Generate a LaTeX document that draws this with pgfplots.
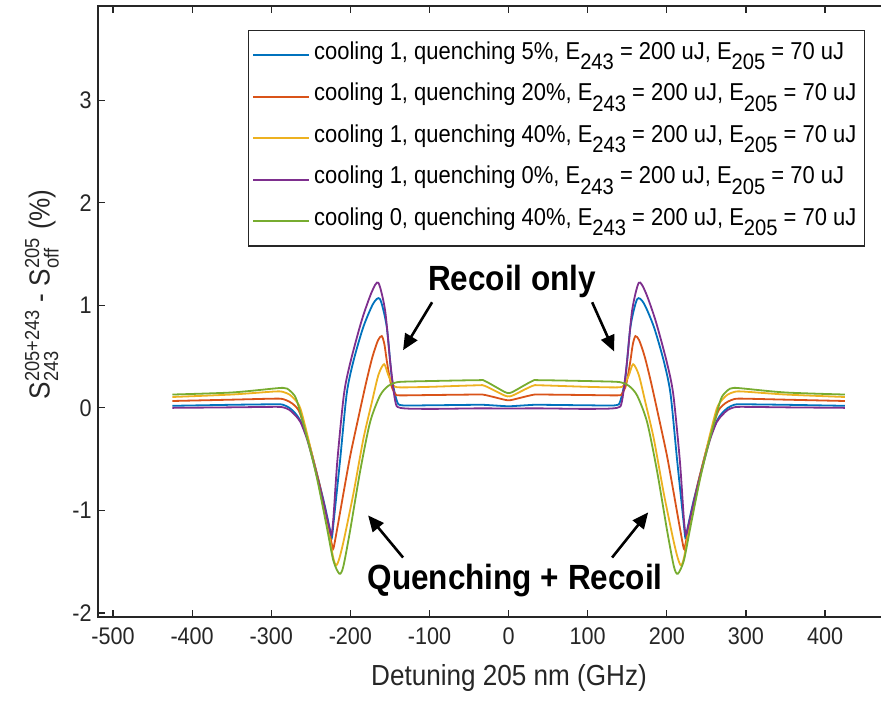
\documentclass[border=0pt]{standalone}
\usepackage{fontspec}
\setmainfont{Liberation Sans}[FakeStretch=0.9]
\usepackage{amsmath}
\usepackage{pgfplots}
\usepackage{pgfplotstable}
\pgfplotsset{compat=1.18}
\usetikzlibrary{arrows.meta}

\definecolor{c1}{rgb}{0,0.447,0.741}
\definecolor{c2}{rgb}{0.850,0.325,0.098}
\definecolor{c3}{rgb}{0.929,0.694,0.125}
\definecolor{c4}{rgb}{0.494,0.184,0.556}
\definecolor{c5}{rgb}{0.466,0.674,0.188}
\definecolor{axgray}{rgb}{0.15,0.15,0.15}

\newcommand\lsub[1]{\raisebox{-0.42em}{\fontsize{11.2}{12}\selectfont #1}}
\newcommand\leg[2]{cooling #1, quenching #2\%, E\lsub{243} = 200 uJ, E\lsub{205} = 70 uJ}

\pgfplotstableread{
x y
-425 0.02
-350 0.03
-295 0.035
-285 0.03
-277 0.0
-270 -0.05
-263.6 -0.12
-255 -0.28
-246.8 -0.51
-234 -0.9
-226 -1.18
-223.5 -1.27
-221 -1.1
-213 -0.51
-204.6 0.14
-196 0.46
-183.6 0.79
-170.9 1.02
-162.5 1.06
-154 0.79
-147.7 0.30
-141.3 0.07
-135 0.025
-100 0.025
-40 0.03
-30 0.029
-5 0.017
0 0.015
5 0.017
30 0.029
40 0.03
100 0.025
135 0.025
141.3 0.07
147.7 0.30
154 0.79
162.5 1.06
170.9 1.02
183.6 0.79
196 0.46
204.6 0.14
213 -0.51
221 -1.1
223.5 -1.27
226 -1.18
234 -0.9
246.8 -0.51
255 -0.28
263.6 -0.12
270 -0.05
277 0.0
285 0.03
295 0.035
350 0.03
425 0.02
}\blue

\pgfplotstableread{
x y
-425 0.067
-350 0.08
-295 0.09
-285 0.085
-277 0.06
-270 0.02
-263.6 -0.056
-251 -0.38
-238.3 -0.77
-227.8 -1.16
-223.5 -1.33
-221.5 -1.374
-216 -1.15
-208 -0.80
-200 -0.46
-190 -0.1
-180 0.25
-172 0.5
-165 0.66
-160.3 0.70
-157 0.62
-154 0.46
-150.5 0.30
-147.7 0.204
-143 0.135
-138 0.122
-100 0.125
-40 0.13
-30 0.126
-5 0.079
0 0.074
5 0.079
30 0.126
40 0.13
100 0.125
138 0.122
143 0.135
147.7 0.204
150.5 0.30
154 0.46
157 0.62
160.3 0.70
165 0.66
172 0.5
180 0.25
190 -0.1
200 -0.46
208 -0.80
216 -1.15
221.5 -1.374
223.5 -1.33
227.8 -1.16
238.3 -0.77
251 -0.38
263.6 -0.056
270 0.02
277 0.06
285 0.085
295 0.09
350 0.08
425 0.067
}\orange

\pgfplotstableread{
x y
-425 0.106
-350 0.13
-295 0.16
-285 0.155
-277 0.13
-270 0.08
-263 -0.01
-252 -0.34
-240 -0.75
-229 -1.15
-222 -1.45
-218.1 -1.537
-214 -1.47
-208 -1.28
-196.2 -0.837
-183.5 -0.3
-173 0.05
-164.6 0.32
-157.4 0.426
-152 0.318
-145.6 0.22
-138 0.20
-100 0.205
-40 0.22
-30 0.214
-5 0.12
0 0.113
5 0.12
30 0.214
40 0.22
100 0.205
138 0.20
145.6 0.22
152 0.318
157.4 0.426
164.6 0.32
173 0.05
183.5 -0.3
196.2 -0.837
208 -1.28
214 -1.47
218.1 -1.537
222 -1.45
229 -1.15
240 -0.75
252 -0.34
263 -0.01
270 0.08
277 0.13
285 0.155
295 0.16
350 0.13
425 0.106
}\yellow

\pgfplotstableread{
x y
-425 0.0
-350 0.005
-295 0.01
-285 0.005
-277 -0.02
-270 -0.07
-263 -0.14
-255 -0.30
-247 -0.52
-234 -0.92
-227 -1.16
-224 -1.24
-221.5 -1.08
-216.4 -0.51
-208 0.14
-199.5 0.46
-185.6 0.855
-173 1.13
-164.6 1.22
-156.1 0.95
-149.8 0.46
-143.5 0.074
-137 0.0
-100 -0.01
-40 -0.005
0 -0.006
40 -0.005
100 -0.01
137 0.0
143.5 0.074
149.8 0.46
156.1 0.95
164.6 1.22
173 1.13
185.6 0.855
199.5 0.46
208 0.14
216.4 -0.51
221.5 -1.08
224 -1.24
227 -1.16
234 -0.92
247 -0.52
255 -0.30
263 -0.14
270 -0.07
277 -0.02
285 0.005
295 0.01
350 0.005
425 0.0
}\purple

\pgfplotstableread{
x y
-425 0.13
-350 0.15
-295 0.19
-285 0.195
-280 0.188
-274 0.15
-267.8 0.074
-255.1 -0.28
-242.5 -0.675
-229.8 -1.163
-221.5 -1.49
-213.9 -1.618
-209 -1.55
-200.4 -1.2
-187.7 -0.62
-175.1 -0.14
-162.5 0.12
-152 0.215
-141.3 0.25
-120 0.258
-40 0.27
-30 0.262
-5 0.155
0 0.146
5 0.155
30 0.262
40 0.27
120 0.258
141.3 0.25
152 0.215
162.5 0.12
175.1 -0.14
187.7 -0.62
200.4 -1.2
209 -1.55
213.9 -1.618
221.5 -1.49
229.8 -1.163
242.5 -0.675
255.1 -0.28
267.8 0.074
274 0.15
280 0.188
285 0.195
295 0.19
350 0.15
425 0.13
}\green

\begin{document}
\begin{tikzpicture}
\begin{axis}[
  name=ax,
  scale only axis,
  width=411pt, height=305.5pt,
  xmin=-519, xmax=520,
  ymin=-2.04, ymax=3.92,
  axis line style={axgray, line width=0.6pt},
  tick style={axgray, line width=0.6pt},
  major tick length=3.5pt,
  tick align=inside,
  xtick={-500,-400,-300,-200,-100,0,100,200,300,400},
  xticklabels={-500,-400,-300,-200,-100,0,100,200,300,400},
  ytick={-2,-1,0,1,2,3},
  yticklabels={-2,-1,0,1,2,3},
  ticklabel style={font=\fontsize{12}{14}\selectfont, text=axgray},
  xticklabel style={anchor=north, inner sep=0pt, yshift=-5pt},
  yticklabel style={anchor=east, inner sep=0pt, xshift=-3pt},
  xlabel={Detuning 205 nm (GHz)},
  ylabel={S$^{\text{205+243}}_{\text{243}}$ - S$^{\text{205}}_{\text{off}}$ (\%)},
  label style={font=\fontsize{14.5}{16}\selectfont, text=axgray},
  xlabel style={at={(rel axis cs:0.5,0)}, anchor=center, yshift=-30.5pt},
  ylabel style={at={(rel axis cs:0,0.528)}, anchor=center, yshift=28pt, xshift=0pt},
  every axis plot/.append style={line width=0.9pt, smooth, tension=0.45},
  legend style={at={(0.933,0.961)}, anchor=north east, draw=axgray, line width=0.6pt,
    font=\fontsize{12.2}{14}\selectfont, cells={anchor=west}, row sep=0pt,
    inner xsep=2pt, inner ysep=2pt,
    nodes={inner sep=2pt, text height=10.5pt, text depth=6.25pt}},
  legend image code/.code={\draw[#1] (0pt,0pt) -- (28pt,0pt);},
  clip=false,
]
\addplot[c1] table {\blue};
\addlegendentry{\leg{1}{5}}
\addplot[c2] table {\orange};
\addlegendentry{\leg{1}{20}}
\addplot[c3] table {\yellow};
\addlegendentry{\leg{1}{40}}
\addplot[c4] table {\purple};
\addlegendentry{\leg{1}{0}}
\addplot[c5] table {\green};
\addlegendentry{\leg{0}{40}}

\node[font=\fontsize{17.5}{20}\selectfont\bfseries] at (axis cs:4.4,1.236) {Recoil only};
\node[font=\fontsize{17.5}{20}\selectfont\bfseries] at (axis cs:8.2,-1.684) {Quenching + Recoil};
\draw[-{Triangle[length=8pt,width=7pt]}, line width=1.3pt] (axis cs:-96.7,1.03) -- (axis cs:-133.4,0.5625);
\draw[-{Triangle[length=8pt,width=7pt]}, line width=1.3pt] (axis cs:105.6,1.03) -- (axis cs:133.4,0.55);
\draw[-{Triangle[length=8pt,width=7pt]}, line width=1.3pt] (axis cs:-133.4,-1.46) -- (axis cs:-177.6,-1.049);
\draw[-{Triangle[length=8pt,width=7pt]}, line width=1.3pt] (axis cs:130.8,-1.46) -- (axis cs:176.4,-1.02);
\end{axis}
\pgfresetboundingbox
\path[use as bounding box] ([xshift=-49pt,yshift=-41.5pt]ax.south west) rectangle ([xshift=391.5pt,yshift=308.5pt]ax.south west);
\end{tikzpicture}
\end{document}
